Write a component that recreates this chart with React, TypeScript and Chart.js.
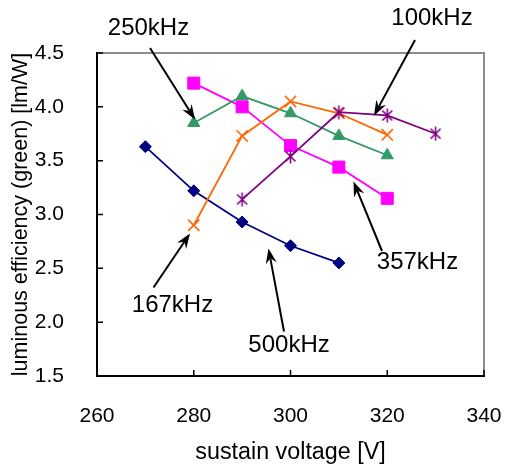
import React, { useEffect, useRef } from 'react';
import { Chart, registerables } from 'chart.js';

Chart.register(...registerables);

// ---- data ----
const voltage500 = [270, 280, 290, 300, 310];
const eff500 = [3.63, 3.22, 2.93, 2.71, 2.55];
const voltage357 = [280, 290, 300, 310, 320];
const eff357 = [4.22, 4.0, 3.64, 3.44, 3.15];
const voltage250 = [280, 290, 300, 310, 320];
const eff250 = [3.85, 4.1, 3.94, 3.73, 3.55];
const voltage167 = [280, 290, 300, 310, 320];
const eff167 = [2.9, 3.73, 4.05, 3.94, 3.74];
const voltage100 = [290, 300, 310, 320, 330];
const eff100 = [3.14, 3.54, 3.95, 3.92, 3.75];

const xTicks = [260, 280, 300, 320, 340];
const yTicks = [1.5, 2.0, 2.5, 3.0, 3.5, 4.0, 4.5];

// annotation labels (data coordinates)
const noteText = ['250kHz', '100kHz', '357kHz', '167kHz', '500kHz'];
const noteX = [270.65, 329.25, 326.25, 275.6, 299.7];
const noteY = [4.726, 4.822, 2.559, 2.16, 1.785];
const arrowFromX = [270.96, 325.74, 318.91, 271.68, 298.66];
const arrowFromY = [4.546, 4.621, 2.661, 2.322, 1.913];
const arrowToX = [280.26, 317.26, 313.02, 279.22, 295.45];
const arrowToY = [3.882, 3.918, 3.307, 2.824, 2.684];

const FONT = "'Liberation Sans', Arial, sans-serif";

function pts(xs: number[], ys: number[]) {
  return xs.map((x, i) => ({ x, y: ys[i] }));
}

function makeAsterisk(color: string) {
  const c = document.createElement('canvas');
  c.width = 15;
  c.height = 15;
  const g = c.getContext('2d')!;
  g.strokeStyle = color;
  g.lineWidth = 1.6;
  g.lineCap = 'butt';
  g.beginPath();
  g.moveTo(7.5, 0.5);
  g.lineTo(7.5, 14.5);
  g.moveTo(2.5, 2.5);
  g.lineTo(12.5, 12.5);
  g.moveTo(12.5, 2.5);
  g.lineTo(2.5, 12.5);
  g.stroke();
  return c;
}

const framePlugin = {
  id: 'frame',
  beforeDatasetsDraw(chart: any) {
    const { ctx, chartArea } = chart;
    const { left, right, top, bottom } = chartArea;
    const xs = chart.scales.x;
    const ys = chart.scales.y;
    ctx.save();
    ctx.lineWidth = 2;
    ctx.strokeStyle = '#8c8c8c';
    ctx.beginPath();
    ctx.moveTo(left, top);
    ctx.lineTo(right, top);
    ctx.lineTo(right, bottom);
    ctx.stroke();
    ctx.strokeStyle = '#000';
    ctx.beginPath();
    ctx.moveTo(left, top - 1);
    ctx.lineTo(left, bottom);
    ctx.lineTo(right + 1, bottom);
    ctx.stroke();
    ctx.lineWidth = 1.5;
    ctx.beginPath();
    yTicks.forEach((v) => {
      const p = ys.getPixelForValue(v);
      ctx.moveTo(left, p);
      ctx.lineTo(left + 6, p);
    });
    xTicks.forEach((v) => {
      const p = xs.getPixelForValue(v);
      ctx.moveTo(p, bottom);
      ctx.lineTo(p, bottom - 6);
    });
    ctx.stroke();
    ctx.restore();
  },
  afterDatasetsDraw(chart: any) {
    const { ctx } = chart;
    const xs = chart.scales.x;
    const ys = chart.scales.y;
    ctx.save();
    ctx.fillStyle = '#000';
    ctx.strokeStyle = '#000';
    ctx.font = `24px ${FONT}`;
    ctx.textAlign = 'center';
    ctx.textBaseline = 'middle';
    noteText.forEach((t, i) => {
      ctx.fillText(t, xs.getPixelForValue(noteX[i]), ys.getPixelForValue(noteY[i]));
      const x0 = xs.getPixelForValue(arrowFromX[i]);
      const y0 = ys.getPixelForValue(arrowFromY[i]);
      const x1 = xs.getPixelForValue(arrowToX[i]);
      const y1 = ys.getPixelForValue(arrowToY[i]);
      const dx = x1 - x0;
      const dy = y1 - y0;
      const len = Math.hypot(dx, dy);
      const ux = dx / len;
      const uy = dy / len;
      const vx = -uy;
      const vy = ux;
      const L = 15;
      const W = 5.5;
      const N = 5;
      const nx = x1 - (L - N) * ux;
      const ny = y1 - (L - N) * uy;
      ctx.lineWidth = 2;
      ctx.beginPath();
      ctx.moveTo(x0, y0);
      ctx.lineTo(nx, ny);
      ctx.stroke();
      ctx.beginPath();
      ctx.moveTo(x1, y1);
      ctx.lineTo(x1 - L * ux + W * vx, y1 - L * uy + W * vy);
      ctx.lineTo(nx, ny);
      ctx.lineTo(x1 - L * ux - W * vx, y1 - L * uy - W * vy);
      ctx.closePath();
      ctx.fill();
    });
    ctx.restore();
  },
};

export default function App() {
  const ref = useRef<HTMLCanvasElement | null>(null);

  useEffect(() => {
    const canvas = ref.current;
    if (!canvas) return;
    const star = makeAsterisk('#800080');
    const chart = new Chart(canvas, {
      type: 'line',
      data: {
        datasets: [
          {
            label: '100kHz',
            data: pts(voltage100, eff100),
            borderColor: '#800080',
            backgroundColor: '#800080',
            borderWidth: 1.8,
            pointStyle: star as any,
            pointRadius: 7,
          },
          {
            label: '167kHz',
            data: pts(voltage167, eff167),
            borderColor: '#ff6600',
            backgroundColor: '#ff6600',
            borderWidth: 1.8,
            pointStyle: 'crossRot',
            pointRadius: 8,
            pointBorderWidth: 1.6,
          },
          {
            label: '250kHz',
            data: pts(voltage250, eff250),
            borderColor: '#339966',
            backgroundColor: '#339966',
            borderWidth: 1.8,
            pointStyle: 'triangle',
            pointRadius: 7,
            pointBorderWidth: 1,
          },
          {
            label: '357kHz',
            data: pts(voltage357, eff357),
            borderColor: '#ff00ff',
            backgroundColor: '#ff00ff',
            borderWidth: 1.8,
            pointStyle: 'rect',
            pointRadius: 8.5,
            pointBorderWidth: 1,
          },
          {
            label: '500kHz',
            data: pts(voltage500, eff500),
            borderColor: '#000080',
            backgroundColor: '#000080',
            borderWidth: 1.8,
            pointStyle: 'rectRot',
            pointRadius: 6,
            pointBorderWidth: 1,
          },
        ],
      },
      options: {
        responsive: false,
        animation: false,
        layout: { padding: { left: 0, top: 53, right: 21, bottom: 0 } },
        plugins: {
          legend: { display: false },
          tooltip: { enabled: false },
        },
        scales: {
          x: {
            type: 'linear',
            min: 260,
            max: 340,
            afterBuildTicks: (s: any) => {
              s.ticks = xTicks.map((v) => ({ value: v }));
            },
            afterFit: (s: any) => {
              s.height = 92;
              s.paddingLeft = 0;
              s.paddingRight = 0;
            },
            grid: { display: false },
            border: { display: false },
            ticks: {
              color: '#000',
              padding: 20,
              maxRotation: 0,
              font: { family: FONT, size: 21 },
            },
            title: {
              display: true,
              text: 'sustain voltage [V]',
              color: '#000',
              font: { family: FONT, size: 23.3 },
              padding: { top: 0, bottom: 1 },
            },
          },
          y: {
            type: 'linear',
            min: 1.5,
            max: 4.5,
            afterBuildTicks: (s: any) => {
              s.ticks = yTicks.map((v) => ({ value: v }));
            },
            afterFit: (s: any) => {
              s.width = 97;
              s.paddingTop = 0;
              s.paddingBottom = 0;
            },
            grid: { display: false },
            border: { display: false },
            ticks: {
              color: '#000',
              padding: 25,
              font: { family: FONT, size: 21 },
              callback: (v: any) => Number(v).toFixed(1),
            },
            title: {
              display: true,
              text: 'luminous efficiency (green) [lm/W]',
              color: '#000',
              font: { family: FONT, size: 21.5 },
              padding: { top: 8, bottom: 0 },
            },
          },
        },
      },
      plugins: [framePlugin],
    });
    return () => chart.destroy();
  }, []);

  return (
    <div style={{ position: 'fixed', left: 0, top: 0, width: 505, height: 468, background: '#fff' }}>
      <canvas ref={ref} width={505} height={468} />
    </div>
  );
}
